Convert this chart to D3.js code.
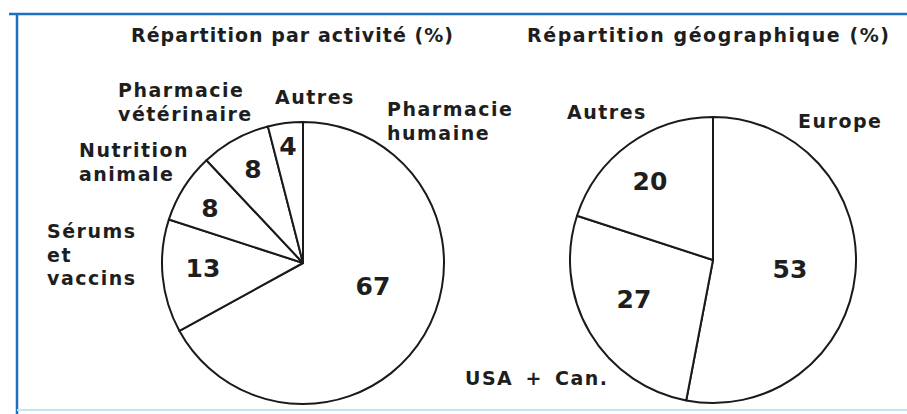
<!DOCTYPE html>
<html>
<head>
<meta charset="utf-8">
<script src="https://cdn.jsdelivr.net/npm/d3@7"></script>
<style>
  body { margin: 0; background: #fff; }
  svg { display: block; }
  text { font-family: "DejaVu Sans", "Liberation Sans", Arial, sans-serif; font-weight: bold; fill: #1e1e1e; }
</style>
</head>
<body>
<svg id="chart"></svg>
<script>
// Répartition par activité (%)
const activityNames = ["Pharmacie humaine", "Sérums et vaccins", "Nutrition animale", "Pharmacie vétérinaire", "Autres"];
const activityValues = [67, 13, 8, 8, 4];

// Répartition géographique (%)
const geoNames = ["Europe", "USA + Can.", "Autres"];
const geoValues = [53, 27, 20];

const width = 907, height = 414;

const svg = d3.select("#chart")
  .attr("width", width)
  .attr("height", height)
  .attr("viewBox", [0, 0, width, height]);

// frame
svg.append("line").attr("x1", 9).attr("x2", width).attr("y1", 14).attr("y2", 14)
  .attr("stroke", "#1f6fc0").attr("stroke-width", 2.5);
svg.append("line").attr("x1", 17).attr("x2", 17).attr("y1", 13).attr("y2", height)
  .attr("stroke", "#1f6fc0").attr("stroke-width", 2.5);
svg.append("line").attr("x1", 17).attr("x2", width).attr("y1", 410).attr("y2", 410)
  .attr("stroke", "#c4e6f2").attr("stroke-width", 2);

const pie = d3.pie().sort(null).value(d => d);

// label spots (layout only): [x, baseline y]
const activityLabels = [
  { lines: ["Pharmacie", "humaine"], x: 387, y: 116 },
  { lines: ["Sérums", "et", "vaccins"], x: 47, y: 238 },
  { lines: ["Nutrition", "animale"], x: 79, y: 157 },
  { lines: ["Pharmacie", "vétérinaire"], x: 118, y: 97 },
  { lines: ["Autres"], x: 275, y: 104 }
];
const activityNums = [[373, 295], [203, 277], [210, 217], [253, 178], [288, 155]];

const geoLabels = [
  { lines: ["Europe"], x: 798, y: 128 },
  { lines: ["USA + Can."], x: 465, y: 385 },
  { lines: ["Autres"], x: 567, y: 119 }
];
const geoNums = [[790, 278], [634, 308], [650, 190]];

function drawPie(values, names, cx, cy, r, labels, nums, title, titleX, titleW) {
  const g = svg.append("g").attr("transform", `translate(${cx},${cy})`);
  const arc = d3.arc().innerRadius(0).outerRadius(r);

  g.selectAll("path")
    .data(pie(values))
    .join("path")
    .attr("d", arc)
    .attr("fill", "#fff")
    .attr("stroke", "#1a1a1a")
    .attr("stroke-width", 2)
    .attr("stroke-linejoin", "round");

  svg.append("text")
    .attr("x", titleX)
    .attr("y", 42)
    .attr("font-size", 19)
    .attr("textLength", titleW)
    .attr("lengthAdjust", "spacing")
    .text(title);

  labels.forEach((l, i) => {
    const t = svg.append("text")
      .attr("x", l.x)
      .attr("y", l.y)
      .attr("font-size", 19)
      .attr("letter-spacing", 1.5)
      .attr("word-spacing", 4);
    l.lines.forEach((s, j) => {
      t.append("tspan").attr("x", l.x).attr("dy", j === 0 ? 0 : 23.5).text(s);
    });
  });

  svg.append("g")
    .selectAll("text")
    .data(values)
    .join("text")
    .attr("x", (d, i) => nums[i][0])
    .attr("y", (d, i) => nums[i][1])
    .attr("text-anchor", "middle")
    .attr("font-size", 25)
    .text(d => d);
}

drawPie(activityValues, activityNames, 303, 263, 141, activityLabels, activityNums,
  "Répartition par activité (%)", 131, 322);
drawPie(geoValues, geoNames, 713, 260, 143, geoLabels, geoNums,
  "Répartition géographique (%)", 527, 362);
</script>
</body>
</html>
